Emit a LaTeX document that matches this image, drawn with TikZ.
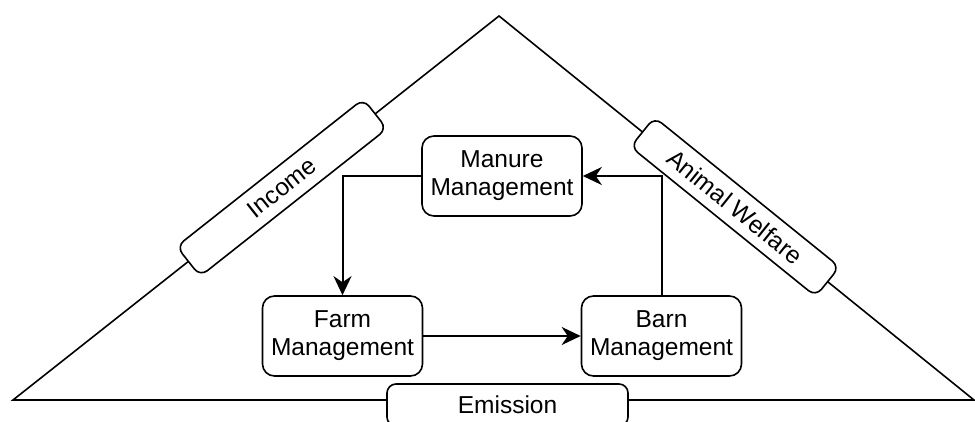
\documentclass[tikz,border=0pt]{standalone}
\usepackage{fontspec}
\setmainfont{Liberation Sans}
\usetikzlibrary{arrows.meta}
\begin{document}
\begin{tikzpicture}[x=1pt,y=-1pt, line width=1.6pt,
  mgmt/.style={draw, line width=1.6pt, fill=white, rounded corners=12pt, minimum width=160pt, minimum height=80pt, align=center, inner sep=0pt, font=\fontsize{24.5pt}{28pt}\selectfont},
  tag/.style={draw, line width=1.6pt, fill=white, rounded corners=9pt, minimum width=238pt, minimum height=38pt, inner sep=0pt, font=\fontsize{24.5pt}{28pt}\selectfont},
  flow/.style={draw, line width=2pt, -{Stealth[length=19pt,width=18pt,inset=6pt]}}
]
\useasboundingbox (0,0) rectangle (975,422);
\coordinate (L) at (13,400);
\coordinate (A) at (499,16);
\coordinate (R) at (974,400);
\draw[line width=1.6pt] (L) -- (A) -- (R) -- cycle;
\path (L) -- node[tag, sloped, pos=0.553] (inc) {Income} (A);
\path (A) -- node[tag, sloped, pos=0.497] (aw) {Animal Welfare} (R);
\node[draw, line width=1.6pt, fill=white, rounded corners=9pt, minimum width=241pt, minimum height=42pt, inner sep=0pt, font=\fontsize{24.5pt}{28pt}\selectfont] (em) at (507.5,405) {Emission};
\node[mgmt] (man) at (502,176) {Manure\\Management};
\node[mgmt] (farm) at (342.5,336) {Farm\\Management};
\node[mgmt] (barn) at (661.5,336) {Barn\\Management};
\draw[flow] (man.west) -| (farm.north);
\draw[flow] (farm.east) -- (barn.west);
\draw[flow] (barn.north) |- (man.east);
\end{tikzpicture}
\end{document}
